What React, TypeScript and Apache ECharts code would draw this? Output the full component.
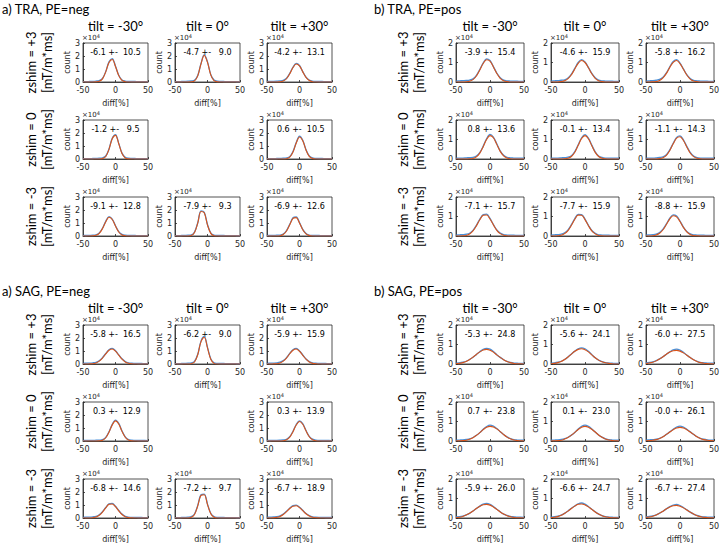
import React, { useEffect, useRef } from "react";
import * as echarts from "echarts";

// ---------------- data ----------------
const diffX = [-50, -45, -40, -35, -30, -25, -20, -15, -10, -5, 0, 5, 10, 15, 20, 25, 30, 35, 40, 45, 50];

const panelTitles = ["a) TRA, PE=neg", "b) TRA, PE=pos", "a) SAG, PE=neg", "b) SAG, PE=pos"];
const tiltLabels = ["tilt = -30°", "tilt = 0°", "tilt = +30°"];
const zshimLabels = ["zshim = +3", "zshim = 0", "zshim = -3"];
const unitLabel = "[mT/m*ms]";
const yTickMax = [3, 2, 3, 2];

// cells present in each panel: [row, col]
const traNegCells = [[0, 0], [0, 1], [0, 2], [1, 0], [1, 2], [2, 0], [2, 1], [2, 2]];
const traPosCells = [[0, 0], [0, 1], [0, 2], [1, 0], [1, 1], [1, 2], [2, 0], [2, 1], [2, 2]];
const sagNegCells = [[0, 0], [0, 1], [0, 2], [1, 0], [1, 2], [2, 0], [2, 1], [2, 2]];
const sagPosCells = [[0, 0], [0, 1], [0, 2], [1, 0], [1, 1], [1, 2], [2, 0], [2, 1], [2, 2]];

const traNegStats = ["-6.1 +-  10.5", "-4.7 +-   9.0", "-4.2 +-  13.1", "-1.2 +-   9.5", " 0.6 +-  10.5", "-9.1 +-  12.8", "-7.9 +-   9.3", "-6.9 +-  12.6"];
const traPosStats = ["-3.9 +-  15.4", "-4.6 +-  15.9", "-5.8 +-  16.2", " 0.8 +-  13.6", "-0.1 +-  13.4", "-1.1 +-  14.3", "-7.1 +-  15.7", "-7.7 +-  15.9", "-8.8 +-  15.9"];
const sagNegStats = ["-5.8 +-  16.5", "-6.2 +-   9.0", "-5.9 +-  15.9", " 0.3 +-  12.9", " 0.3 +-  13.9", "-6.8 +-  14.6", "-7.2 +-   9.7", "-6.7 +-  18.9"];
const sagPosStats = ["-5.3 +-  24.8", "-5.6 +-  24.1", "-6.0 +-  27.5", " 0.7 +-  23.8", " 0.1 +-  23.0", "-0.0 +-  26.1", "-5.9 +-  26.0", "-6.6 +-  24.7", "-6.7 +-  27.4"];

// counts in units of 1e4, sampled at diffX (orange = fit, blue = histogram)
const traNegFit = [
  [0, 0, 0, 0, 0.01, 0.05, 0.24, 0.78, 1.50, 1.73, 1.19, 0.49, 0.12, 0.02, 0, 0, 0, 0, 0, 0, 0],
  [0, 0, 0, 0, 0, 0.01, 0.08, 0.47, 1.39, 2.05, 1.51, 0.55, 0.10, 0.01, 0, 0, 0, 0, 0, 0, 0],
  [0, 0, 0, 0, 0.01, 0.07, 0.25, 0.63, 1.11, 1.39, 1.24, 0.78, 0.35, 0.11, 0.02, 0, 0, 0, 0, 0, 0],
  [0, 0, 0, 0, 0, 0, 0.03, 0.19, 0.74, 1.56, 1.82, 1.17, 0.42, 0.08, 0.01, 0, 0, 0, 0, 0, 0],
  [0, 0, 0, 0, 0, 0, 0.02, 0.14, 0.54, 1.23, 1.69, 1.40, 0.69, 0.20, 0.04, 0, 0, 0, 0, 0, 0],
  [0, 0, 0, 0.01, 0.05, 0.20, 0.57, 1.10, 1.44, 1.27, 0.76, 0.31, 0.08, 0.02, 0, 0, 0, 0, 0, 0, 0],
  [0, 0, 0, 0, 0, 0.03, 0.26, 0.99, 1.88, 1.78, 0.84, 0.20, 0.02, 0, 0, 0, 0, 0, 0, 0, 0],
  [0, 0, 0, 0, 0.02, 0.11, 0.38, 0.87, 1.35, 1.41, 1.00, 0.48, 0.16, 0.03, 0, 0, 0, 0, 0, 0, 0],
];
const traNegHist = [
  [0.03, 0.03, 0.04, 0.05, 0.07, 0.11, 0.28, 0.80, 1.55, 1.80, 1.22, 0.52, 0.16, 0.07, 0.05, 0.04, 0.04, 0.03, 0.03, 0.03, 0.02],
  [0.03, 0.03, 0.04, 0.05, 0.06, 0.08, 0.14, 0.50, 1.42, 2.10, 1.55, 0.58, 0.15, 0.06, 0.05, 0.04, 0.03, 0.03, 0.03, 0.02, 0.02],
  [0.04, 0.05, 0.05, 0.06, 0.08, 0.13, 0.29, 0.66, 1.14, 1.44, 1.27, 0.80, 0.38, 0.15, 0.07, 0.05, 0.04, 0.04, 0.03, 0.03, 0.03],
  [0.03, 0.03, 0.03, 0.04, 0.05, 0.06, 0.09, 0.23, 0.77, 1.60, 1.88, 1.20, 0.45, 0.13, 0.06, 0.05, 0.04, 0.03, 0.03, 0.03, 0.02],
  [0.03, 0.03, 0.03, 0.04, 0.05, 0.06, 0.08, 0.18, 0.57, 1.27, 1.75, 1.44, 0.72, 0.24, 0.08, 0.05, 0.04, 0.04, 0.03, 0.03, 0.03],
  [0.04, 0.04, 0.05, 0.06, 0.09, 0.24, 0.60, 1.13, 1.49, 1.30, 0.79, 0.34, 0.12, 0.06, 0.05, 0.04, 0.04, 0.03, 0.03, 0.03, 0.03],
  [0.03, 0.03, 0.04, 0.05, 0.06, 0.08, 0.30, 1.02, 1.93, 1.83, 0.88, 0.24, 0.07, 0.05, 0.04, 0.04, 0.03, 0.03, 0.03, 0.02, 0.02],
  [0.04, 0.04, 0.05, 0.06, 0.07, 0.15, 0.42, 0.90, 1.40, 1.46, 1.03, 0.51, 0.20, 0.07, 0.05, 0.04, 0.04, 0.03, 0.03, 0.03, 0.03],
];

const traPosFit = [
  [0, 0, 0, 0.01, 0.04, 0.12, 0.31, 0.62, 0.95, 1.14, 1.07, 0.77, 0.44, 0.19, 0.07, 0.02, 0, 0, 0, 0, 0],
  [0, 0, 0, 0.02, 0.06, 0.17, 0.37, 0.67, 0.96, 1.10, 1.00, 0.73, 0.42, 0.19, 0.07, 0.02, 0, 0, 0, 0, 0],
  [0, 0, 0.01, 0.02, 0.08, 0.21, 0.44, 0.75, 1.01, 1.10, 0.94, 0.65, 0.36, 0.15, 0.05, 0.02, 0, 0, 0, 0, 0],
  [0, 0, 0, 0, 0.01, 0.03, 0.11, 0.30, 0.63, 1.00, 1.20, 1.09, 0.75, 0.39, 0.16, 0.05, 0.01, 0, 0, 0, 0],
  [0, 0, 0, 0, 0.01, 0.04, 0.13, 0.35, 0.70, 1.05, 1.20, 1.04, 0.68, 0.34, 0.13, 0.04, 0.01, 0, 0, 0, 0],
  [0, 0, 0, 0, 0.02, 0.07, 0.19, 0.44, 0.78, 1.07, 1.14, 0.95, 0.62, 0.31, 0.12, 0.04, 0.01, 0, 0, 0, 0],
  [0, 0, 0.01, 0.03, 0.10, 0.26, 0.52, 0.83, 1.06, 1.08, 0.87, 0.57, 0.29, 0.12, 0.04, 0.01, 0, 0, 0, 0, 0],
  [0, 0, 0.01, 0.04, 0.12, 0.28, 0.55, 0.86, 1.07, 1.06, 0.84, 0.53, 0.26, 0.11, 0.03, 0.01, 0, 0, 0, 0, 0],
  [0, 0, 0.01, 0.05, 0.14, 0.32, 0.59, 0.88, 1.04, 0.98, 0.74, 0.44, 0.21, 0.08, 0.02, 0.01, 0, 0, 0, 0, 0],
];
const traPosHist = [
  [0.05, 0.06, 0.07, 0.08, 0.10, 0.16, 0.34, 0.64, 0.98, 1.19, 1.10, 0.79, 0.46, 0.22, 0.10, 0.06, 0.05, 0.04, 0.04, 0.03, 0.03],
  [0.05, 0.06, 0.07, 0.09, 0.11, 0.20, 0.40, 0.70, 1.00, 1.15, 1.03, 0.75, 0.44, 0.22, 0.10, 0.06, 0.05, 0.04, 0.04, 0.03, 0.03],
  [0.05, 0.06, 0.07, 0.09, 0.13, 0.24, 0.47, 0.78, 1.05, 1.15, 0.97, 0.67, 0.38, 0.18, 0.08, 0.06, 0.05, 0.04, 0.04, 0.03, 0.03],
  [0.04, 0.05, 0.05, 0.06, 0.07, 0.08, 0.15, 0.33, 0.66, 1.04, 1.26, 1.12, 0.78, 0.42, 0.19, 0.09, 0.06, 0.05, 0.04, 0.04, 0.04],
  [0.04, 0.05, 0.05, 0.06, 0.07, 0.09, 0.17, 0.38, 0.73, 1.09, 1.25, 1.07, 0.71, 0.37, 0.16, 0.08, 0.05, 0.05, 0.04, 0.04, 0.04],
  [0.04, 0.05, 0.05, 0.06, 0.08, 0.11, 0.22, 0.47, 0.81, 1.11, 1.19, 0.98, 0.65, 0.34, 0.15, 0.07, 0.05, 0.05, 0.04, 0.04, 0.04],
  [0.05, 0.06, 0.07, 0.09, 0.14, 0.29, 0.55, 0.86, 1.10, 1.12, 0.90, 0.59, 0.31, 0.15, 0.07, 0.05, 0.04, 0.04, 0.03, 0.03, 0.03],
  [0.05, 0.06, 0.07, 0.09, 0.16, 0.31, 0.58, 0.89, 1.11, 1.10, 0.87, 0.55, 0.28, 0.14, 0.06, 0.05, 0.04, 0.04, 0.03, 0.03, 0.03],
  [0.05, 0.06, 0.07, 0.10, 0.18, 0.35, 0.62, 0.91, 1.08, 1.02, 0.77, 0.46, 0.23, 0.11, 0.06, 0.05, 0.04, 0.04, 0.03, 0.03, 0.03],
];

const sagNegFit = [
  [0, 0, 0.01, 0.02, 0.08, 0.22, 0.46, 0.78, 1.06, 1.15, 0.99, 0.68, 0.37, 0.16, 0.06, 0.02, 0, 0, 0, 0, 0],
  [0, 0, 0, 0, 0, 0.02, 0.15, 0.71, 1.72, 2.06, 1.24, 0.37, 0.05, 0, 0, 0, 0, 0, 0, 0, 0],
  [0, 0, 0.01, 0.02, 0.08, 0.22, 0.46, 0.79, 1.06, 1.15, 0.98, 0.67, 0.37, 0.16, 0.05, 0.02, 0, 0, 0, 0, 0],
  [0, 0, 0, 0, 0, 0.01, 0.06, 0.25, 0.68, 1.24, 1.55, 1.31, 0.74, 0.29, 0.07, 0.01, 0, 0, 0, 0, 0],
  [0, 0, 0, 0, 0, 0.02, 0.09, 0.30, 0.72, 1.23, 1.50, 1.29, 0.78, 0.33, 0.10, 0.02, 0, 0, 0, 0, 0],
  [0, 0, 0, 0.02, 0.07, 0.21, 0.46, 0.78, 1.05, 1.08, 0.87, 0.55, 0.27, 0.10, 0.03, 0.01, 0, 0, 0, 0, 0],
  [0, 0, 0, 0, 0, 0.05, 0.27, 0.93, 1.74, 1.79, 1.03, 0.33, 0.06, 0, 0, 0, 0, 0, 0, 0, 0],
  [0, 0, 0.01, 0.05, 0.12, 0.27, 0.49, 0.73, 0.91, 0.94, 0.80, 0.57, 0.33, 0.16, 0.06, 0.02, 0.01, 0, 0, 0, 0],
];
const sagNegHist = [
  [0.05, 0.06, 0.07, 0.09, 0.13, 0.25, 0.49, 0.81, 1.10, 1.20, 1.02, 0.70, 0.40, 0.19, 0.09, 0.06, 0.05, 0.04, 0.04, 0.03, 0.03],
  [0.03, 0.03, 0.04, 0.05, 0.06, 0.08, 0.20, 0.75, 1.76, 2.12, 1.28, 0.41, 0.10, 0.05, 0.04, 0.04, 0.03, 0.03, 0.03, 0.02, 0.02],
  [0.05, 0.06, 0.07, 0.09, 0.14, 0.26, 0.49, 0.82, 1.10, 1.20, 1.01, 0.70, 0.39, 0.19, 0.08, 0.06, 0.05, 0.04, 0.04, 0.03, 0.03],
  [0.04, 0.04, 0.05, 0.05, 0.06, 0.07, 0.10, 0.28, 0.71, 1.28, 1.60, 1.35, 0.77, 0.32, 0.11, 0.06, 0.05, 0.04, 0.04, 0.04, 0.03],
  [0.04, 0.04, 0.05, 0.05, 0.06, 0.08, 0.13, 0.33, 0.75, 1.27, 1.55, 1.33, 0.81, 0.36, 0.14, 0.06, 0.05, 0.04, 0.04, 0.04, 0.03],
  [0.05, 0.06, 0.07, 0.09, 0.12, 0.25, 0.49, 0.81, 1.09, 1.13, 0.90, 0.58, 0.30, 0.13, 0.07, 0.05, 0.05, 0.04, 0.04, 0.03, 0.03],
  [0.03, 0.03, 0.04, 0.05, 0.06, 0.10, 0.31, 0.97, 1.79, 1.84, 1.07, 0.37, 0.11, 0.05, 0.04, 0.04, 0.03, 0.03, 0.03, 0.02, 0.02],
  [0.06, 0.07, 0.08, 0.10, 0.16, 0.30, 0.52, 0.76, 0.95, 0.99, 0.83, 0.59, 0.35, 0.19, 0.09, 0.06, 0.05, 0.05, 0.04, 0.04, 0.04],
];

const sagPosFit = [
  [0.02, 0.03, 0.07, 0.13, 0.23, 0.35, 0.49, 0.62, 0.72, 0.75, 0.71, 0.61, 0.47, 0.34, 0.22, 0.13, 0.07, 0.03, 0.01, 0.01, 0],
  [0.01, 0.03, 0.07, 0.13, 0.23, 0.36, 0.51, 0.65, 0.75, 0.78, 0.73, 0.62, 0.47, 0.32, 0.20, 0.11, 0.06, 0.03, 0.01, 0, 0],
  [0.02, 0.05, 0.09, 0.16, 0.26, 0.37, 0.50, 0.61, 0.68, 0.70, 0.66, 0.57, 0.45, 0.33, 0.22, 0.13, 0.07, 0.04, 0.02, 0.01, 0],
  [0, 0.01, 0.02, 0.04, 0.09, 0.17, 0.29, 0.43, 0.58, 0.70, 0.75, 0.72, 0.62, 0.48, 0.33, 0.20, 0.11, 0.05, 0.02, 0.01, 0],
  [0, 0.01, 0.02, 0.04, 0.10, 0.18, 0.30, 0.44, 0.59, 0.71, 0.75, 0.71, 0.60, 0.46, 0.31, 0.19, 0.10, 0.05, 0.02, 0.01, 0],
  [0.01, 0.02, 0.04, 0.07, 0.13, 0.22, 0.34, 0.46, 0.58, 0.67, 0.70, 0.67, 0.58, 0.46, 0.34, 0.22, 0.13, 0.07, 0.04, 0.02, 0.01],
  [0.02, 0.04, 0.08, 0.15, 0.24, 0.36, 0.49, 0.60, 0.68, 0.70, 0.66, 0.56, 0.44, 0.31, 0.20, 0.12, 0.07, 0.03, 0.01, 0.01, 0],
  [0.02, 0.04, 0.07, 0.14, 0.24, 0.35, 0.49, 0.61, 0.70, 0.72, 0.67, 0.57, 0.44, 0.31, 0.20, 0.12, 0.06, 0.03, 0.01, 0.01, 0],
  [0.03, 0.05, 0.09, 0.15, 0.25, 0.35, 0.47, 0.57, 0.63, 0.65, 0.60, 0.52, 0.41, 0.30, 0.20, 0.12, 0.07, 0.03, 0.02, 0.01, 0],
];
const sagPosHist = [
  [0.05, 0.06, 0.09, 0.14, 0.23, 0.35, 0.49, 0.63, 0.75, 0.80, 0.76, 0.64, 0.48, 0.34, 0.22, 0.13, 0.08, 0.05, 0.04, 0.03, 0.03],
  [0.05, 0.06, 0.09, 0.14, 0.23, 0.36, 0.51, 0.66, 0.78, 0.83, 0.78, 0.65, 0.48, 0.32, 0.20, 0.12, 0.07, 0.05, 0.04, 0.03, 0.03],
  [0.06, 0.08, 0.11, 0.17, 0.26, 0.37, 0.50, 0.62, 0.72, 0.76, 0.71, 0.60, 0.46, 0.33, 0.22, 0.14, 0.08, 0.06, 0.05, 0.04, 0.04],
  [0.04, 0.05, 0.06, 0.08, 0.11, 0.18, 0.29, 0.43, 0.60, 0.74, 0.81, 0.76, 0.64, 0.48, 0.33, 0.21, 0.12, 0.07, 0.05, 0.04, 0.04],
  [0.04, 0.05, 0.06, 0.08, 0.12, 0.19, 0.30, 0.44, 0.61, 0.75, 0.81, 0.75, 0.62, 0.46, 0.31, 0.20, 0.11, 0.07, 0.05, 0.04, 0.04],
  [0.05, 0.06, 0.07, 0.09, 0.14, 0.22, 0.34, 0.47, 0.60, 0.71, 0.76, 0.71, 0.60, 0.47, 0.34, 0.22, 0.14, 0.09, 0.06, 0.05, 0.05],
  [0.06, 0.07, 0.10, 0.16, 0.24, 0.36, 0.49, 0.61, 0.71, 0.75, 0.70, 0.59, 0.45, 0.32, 0.20, 0.13, 0.08, 0.06, 0.04, 0.04, 0.03],
  [0.05, 0.07, 0.10, 0.15, 0.24, 0.36, 0.50, 0.62, 0.73, 0.77, 0.71, 0.59, 0.45, 0.32, 0.20, 0.12, 0.07, 0.05, 0.04, 0.03, 0.03],
  [0.06, 0.08, 0.11, 0.16, 0.25, 0.35, 0.47, 0.58, 0.66, 0.70, 0.64, 0.54, 0.42, 0.30, 0.20, 0.13, 0.08, 0.06, 0.05, 0.04, 0.04],
];

// ---------------- layout ----------------
const PANEL_X = [0, 372, 0, 372];
const PANEL_Y = [0, 0, 282, 282];
const COL_X_A = [83, 175, 267];
const COL_X_B = [84, 179, 274];
const BOX_W_A = 65;
const BOX_W_B = 68;
const ROW_Y = [43, 120, 197];
const BOX_H = 39;

const AX = "#262626";
const BLUE = "#4a90d9";
const ORANGE = "#d95319";
const SMALL_FONT = "DejaVu Sans";
const BIG_FONT = "Lato";

function buildOption() {
  const panels = [
    { cells: traNegCells, stats: traNegStats, fit: traNegFit, hist: traNegHist },
    { cells: traPosCells, stats: traPosStats, fit: traPosFit, hist: traPosHist },
    { cells: sagNegCells, stats: sagNegStats, fit: sagNegFit, hist: sagNegHist },
    { cells: sagPosCells, stats: sagPosStats, fit: sagPosFit, hist: sagPosHist },
  ];
  const grid: any[] = [];
  const xAxis: any[] = [];
  const yAxis: any[] = [];
  const series: any[] = [];
  const graphic: any[] = [];

  panels.forEach((p, pi) => {
    const ox = PANEL_X[pi];
    const oy = PANEL_Y[pi];
    const isB = pi % 2 === 1;
    const colX = isB ? COL_X_B : COL_X_A;
    const bw = isB ? BOX_W_B : BOX_W_A;
    graphic.push({
      type: "text", x: ox + 2, y: oy + 9,
      style: { text: panelTitles[pi], fontFamily: BIG_FONT, fontSize: 13, fill: "#000", align: "left", verticalAlign: "middle" },
    });
    tiltLabels.forEach((t, c) => {
      graphic.push({
        type: "text", x: ox + colX[c] + bw / 2, y: oy + 26,
        style: { text: t, fontFamily: BIG_FONT, fontSize: 13, fill: "#000", align: "center", verticalAlign: "middle" },
      });
    });
    zshimLabels.forEach((t, r) => {
      const cy = oy + ROW_Y[r] + BOX_H / 2;
      graphic.push({
        type: "text", x: ox + 31, y: cy, rotation: Math.PI / 2,
        style: { text: t, fontFamily: BIG_FONT, fontSize: 13, fill: "#000", align: "center", verticalAlign: "middle" },
      });
      graphic.push({
        type: "text", x: ox + 47, y: cy, rotation: Math.PI / 2,
        style: { text: unitLabel, fontFamily: BIG_FONT, fontSize: 13, fill: "#000", align: "center", verticalAlign: "middle" },
      });
    });

    p.cells.forEach(([r, c], k) => {
      const gi = grid.length;
      const left = ox + colX[c];
      const top = oy + ROW_Y[r];
      grid.push({ left, top, width: bw, height: BOX_H, show: true, borderColor: AX, borderWidth: 0.8, backgroundColor: "transparent" });
      xAxis.push({
        gridIndex: gi, type: "value", min: -50, max: 50, interval: 50,
        name: "diff[%]", nameLocation: "middle", nameGap: 17,
        nameTextStyle: { fontFamily: SMALL_FONT, fontSize: 8, color: AX },
        axisLine: { show: true, onZero: false, lineStyle: { color: AX, width: 0.8 } },
        axisTick: { show: true, inside: true, length: 2, lineStyle: { color: AX, width: 0.8 } },
        axisLabel: { fontFamily: SMALL_FONT, fontSize: 8, color: AX, margin: 4 },
        splitLine: { show: false },
      });
      yAxis.push({
        gridIndex: gi, type: "value", min: 0, max: yTickMax[pi], interval: 1,
        name: "count", nameLocation: "middle", nameGap: 10, nameRotate: 90,
        nameTextStyle: { fontFamily: SMALL_FONT, fontSize: 8, color: AX },
        axisLine: { show: true, onZero: false, lineStyle: { color: AX, width: 0.8 } },
        axisTick: { show: true, inside: true, length: 2, lineStyle: { color: AX, width: 0.8 } },
        axisLabel: { fontFamily: SMALL_FONT, fontSize: 8, color: AX, margin: 3 },
        splitLine: { show: false },
      });
      series.push({
        type: "line", xAxisIndex: gi, yAxisIndex: gi, silent: true, showSymbol: false, smooth: 0.35,
        data: diffX.map((x, j) => [x, p.hist[k][j]]),
        lineStyle: { color: BLUE, width: 1.3 }, z: 2,
      });
      series.push({
        type: "line", xAxisIndex: gi, yAxisIndex: gi, silent: true, showSymbol: false, smooth: 0.35,
        data: diffX.map((x, j) => [x, p.fit[k][j]]),
        lineStyle: { color: ORANGE, width: 1.1 }, z: 3,
      });
      graphic.push({
        type: "text", x: left + bw / 2, y: top + 9,
        style: { text: p.stats[k], fontFamily: SMALL_FONT, fontSize: 8, fill: "#000", align: "center", verticalAlign: "middle" },
      });
      graphic.push({
        type: "text", x: left - 1, y: top - 1,
        style: {
          text: "{a|×10}{b|4}", align: "left", verticalAlign: "bottom",
          rich: {
            a: { fontFamily: SMALL_FONT, fontSize: 7, fill: AX, color: AX },
            b: { fontFamily: SMALL_FONT, fontSize: 5, fill: AX, color: AX, padding: [0, 0, 4, 0] },
          },
        },
      });
    });
  });

  return { animation: false, backgroundColor: "#fff", grid, xAxis, yAxis, series, graphic };
}

export default function App() {
  const ref = useRef<HTMLDivElement>(null);
  useEffect(() => {
    if (!ref.current) return;
    const chart = echarts.init(ref.current, undefined, { renderer: "svg" });
    chart.setOption(buildOption() as any);
    return () => chart.dispose();
  }, []);
  return <div ref={ref} style={{ position: "fixed", left: 0, top: 0, width: 723, height: 544 }} />;
}
